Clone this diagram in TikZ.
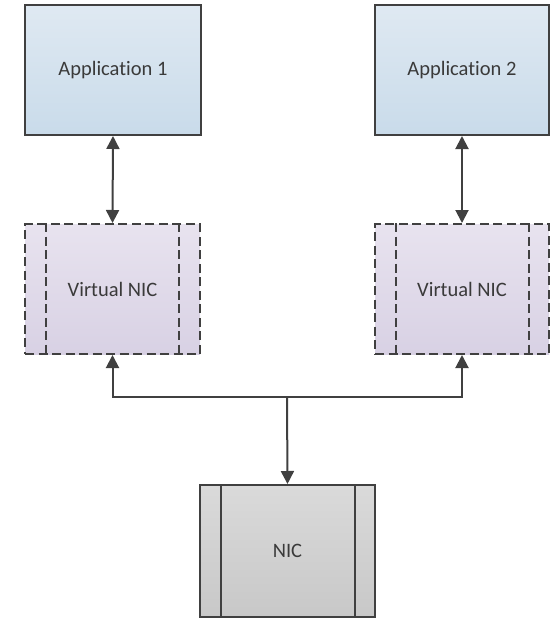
\documentclass[tikz,border=0pt]{standalone}
\usepackage{fontspec}
\setmainfont{Carlito}[Ligatures=NoCommon]
\usetikzlibrary{arrows.meta}
\definecolor{edge}{HTML}{404040}
\definecolor{txt}{HTML}{3A3A3A}
\definecolor{apptop}{HTML}{DFE9F2}
\definecolor{appbot}{HTML}{C9DBEA}
\definecolor{vtop}{HTML}{E8E3EF}
\definecolor{vbot}{HTML}{D8D1E4}
\definecolor{ntop}{HTML}{DADADA}
\definecolor{nbot}{HTML}{C8C8C8}
\tikzset{
  box/.style={draw=edge, line width=2pt, inner sep=0pt, text=txt,
    font=\fontsize{20.5}{24}\selectfont, anchor=north west},
  appbox/.style={box, top color=apptop, bottom color=appbot},
  vnicbox/.style={box, dash pattern=on 9pt off 4.5pt, top color=vtop, bottom color=vbot},
  nicbox/.style={box, top color=ntop, bottom color=nbot},
  inner/.style={draw=edge, line width=2pt},
  tip/.style={Triangle[width=13pt,length=13pt]},
  conn/.style={draw=edge, line width=2pt, -{Triangle[width=13pt,length=13pt]}},
  biconn/.style={draw=edge, line width=2pt, {Triangle[width=13pt,length=13pt]}-{Triangle[width=13pt,length=13pt]}}
}
\begin{document}
\begin{tikzpicture}[x=1pt,y=-1pt]
\useasboundingbox (0,0) rectangle (556,618);
\node[appbox, minimum width=176pt, minimum height=130pt] (app1) at (24,4) {Application 1};
\node[appbox, minimum width=174pt, minimum height=130pt] (app2) at (374,4) {Application 2};
\node[vnicbox, minimum width=175pt, minimum height=130pt] (vnic1) at (24,223) {Virtual NIC};
\node[vnicbox, minimum width=174pt, minimum height=130pt] (vnic2) at (374,223) {Virtual NIC};
\node[nicbox, minimum width=175pt, minimum height=132pt] (nic) at (199,484) {NIC};
% inner vertical lines
\draw[inner, dash pattern=on 9pt off 4.5pt] ([xshift=22pt]vnic1.north west) -- ([xshift=22pt]vnic1.south west);
\draw[inner, dash pattern=on 9pt off 4.5pt] ([xshift=-22pt]vnic1.north east) -- ([xshift=-22pt]vnic1.south east);
\draw[inner, dash pattern=on 9pt off 4.5pt] ([xshift=22pt]vnic2.north west) -- ([xshift=22pt]vnic2.south west);
\draw[inner, dash pattern=on 9pt off 4.5pt] ([xshift=-21pt]vnic2.north east) -- ([xshift=-21pt]vnic2.south east);
\draw[inner] ([xshift=22pt]nic.north west) -- ([xshift=22pt]nic.south west);
\draw[inner] ([xshift=-21pt]nic.north east) -- ([xshift=-21pt]nic.south east);
% connectors
\draw[biconn] (app1.south) -- (vnic1.north);
\draw[biconn] (app2.south) -- (vnic2.north);
\coordinate (bus) at (287,397);
\draw[conn] (bus) -| (vnic1.south);
\draw[conn] (bus) -| (vnic2.south);
\draw[conn] (bus) -- (nic.north);
\end{tikzpicture}
\end{document}
